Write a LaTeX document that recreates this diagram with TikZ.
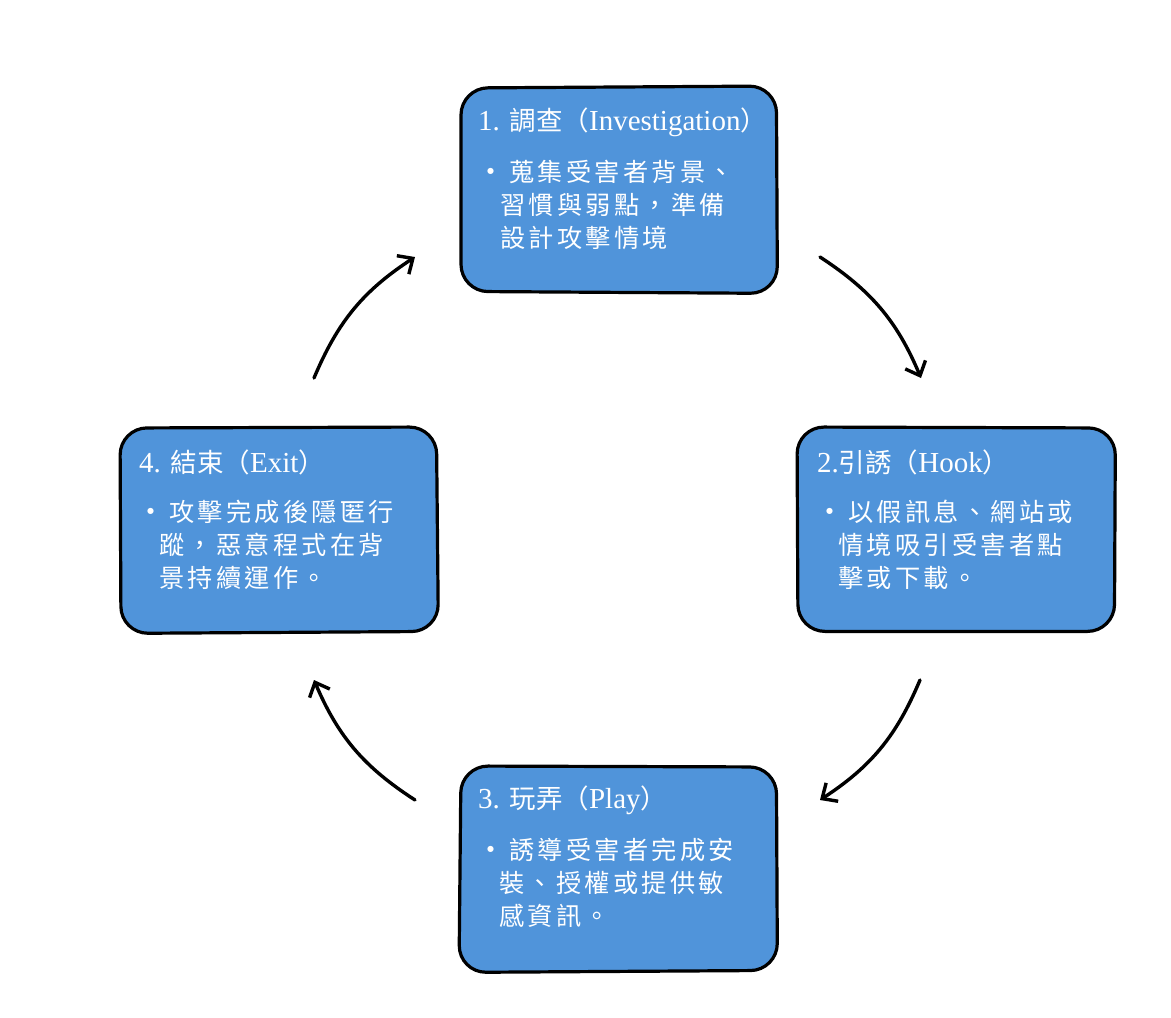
\documentclass[tikz,border=0pt]{standalone}
\usepackage{fontspec}
\setmainfont{Liberation Serif}
\newfontfamily\cjk{Noto Sans CJK TC}
\newfontfamily\cjkbody[LetterSpace=13]{Noto Sans CJK TC}
\newfontfamily\dejavu{DejaVu Sans}
\usetikzlibrary{arrows.meta}
\definecolor{boxblue}{RGB}{80,148,218}
\tikzset{
  x=1pt,y=1pt,
  box/.style={fill=boxblue, rounded corners=26pt,
    minimum width=317pt, minimum height=205pt, anchor=north west, inner sep=0pt},
  border/.style={draw=black, line width=3.2pt, rounded corners=27pt},
  ttl/.style={anchor=west, inner sep=0pt, text=white, font=\fontsize{29}{29}\selectfont},
  bodyline/.style={anchor=west, inner sep=0pt, text=white, font=\cjkbody\fontsize{25.2}{26}\selectfont},
  arr/.style={line width=3.4pt, -{Straight Barb[length=12pt,width=22pt]}, line cap=round},
}
\newcommand{\bul}{\makebox[23pt][l]{\hspace{1pt}\raisebox{8pt}{\dejavu\fontsize{8}{8}\selectfont ●}}}
\newcommand{\zh}[1]{{\cjk\fontsize{26.5}{26.5}\selectfont #1}}
\begin{document}
\begin{tikzpicture}
\useasboundingbox (0,0) rectangle (1171,-1018);
% boxes
\node[box] (b1) at (460,-87) {};
\node[box] (b2) at (798,-427) {};
\node[box] (b3) at (460,-766) {};
\node[box] (b4) at (120,-427) {};
\draw[border] ([shift={(1,-1)}]b1.north west) -- ([shift={(-1,1)}]b1.north east) -- ([shift={(0,-1)}]b1.south east) -- ([shift={(1,1)}]b1.south west) -- cycle;
\draw[border] ([shift={(-1,0)}]b2.north west) -- ([shift={(0,-1)}]b2.north east) -- ([shift={(-1,1)}]b2.south east) -- ([shift={(0,1)}]b2.south west) -- cycle;
\draw[border] ([shift={(1,0)}]b3.north west) -- ([shift={(-1,-1)}]b3.north east) -- ([shift={(0,1)}]b3.south east) -- ([shift={(-1,-1)}]b3.south west) -- cycle;
\draw[border] ([shift={(0,-1)}]b4.north west) -- ([shift={(-1,0)}]b4.north east) -- ([shift={(1,1)}]b4.south east) -- ([shift={(1,-1)}]b4.south west) -- cycle;
% box 1
\node[ttl] (t1) at (478,-122) {1. \zh{調查（}Investigation\zh{）}};
\node[bodyline] (l11) at (486,-172) {\bul 蒐集受害者背景、};
\node[bodyline] (l12) at (500,-205) {習慣與弱點，準備};
\node[bodyline] (l13) at (500,-238) {設計攻擊情境};
% box 2
\node[ttl] (t2) at (817,-462) {2.\zh{引誘（}Hook\zh{）}};
\node[bodyline] (l21) at (825,-512) {\bul 以假訊息、網站或};
\node[bodyline] (l22) at (838,-545) {情境吸引受害者點};
\node[bodyline] (l23) at (838,-578) {擊或下載。};
% box 3
\node[ttl] (t3) at (478,-800) {3. \zh{玩弄（}Play\zh{）}};
\node[bodyline] (l31) at (486,-850) {\bul 誘導受害者完成安};
\node[bodyline] (l32) at (499,-883) {裝、授權或提供敏};
\node[bodyline] (l33) at (499,-916) {感資訊。};
% box 4
\node[ttl] (t4) at (139,-462) {4. \zh{結束（}Exit\zh{）}};
\node[bodyline] (l41) at (146,-512) {\bul 攻擊完成後隱匿行};
\node[bodyline] (l42) at (159,-545) {蹤，惡意程式在背};
\node[bodyline] (l43) at (159,-578) {景持續運作。};
% arrows
\coordinate (a1s) at (820,-257);
\coordinate (a1e) at (921,-378);
\coordinate (a2s) at (920,-680);
\coordinate (a2e) at (820,-800);
\coordinate (a3s) at (415,-800);
\coordinate (a3e) at (314,-680);
\coordinate (a4s) at (314,-378);
\coordinate (a4e) at (415,-257);
\draw[arr] (a1s) to[bend left=17] (a1e);
\draw[arr] (a2s) to[bend left=17] (a2e);
\draw[arr] (a3s) to[bend left=17] (a3e);
\draw[arr] (a4s) to[bend left=17] (a4e);
\end{tikzpicture}
\end{document}
